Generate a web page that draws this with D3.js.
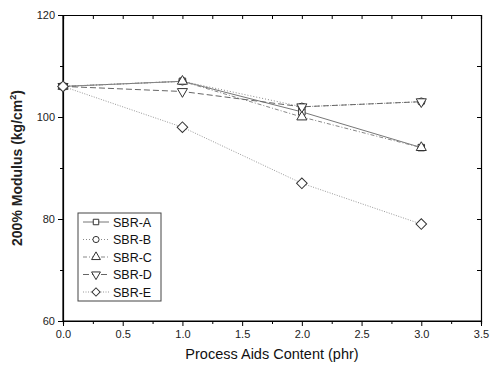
<!DOCTYPE html>
<html lang="en">
<head>
  <meta charset="UTF-8">
  <title>200% Modulus vs Process Aids Content</title>
  <style>
    body { margin: 0; background: #fff; }
    svg { display: block; font-family: "Liberation Sans", Arial, sans-serif; }
    .series path.line { fill: none; stroke-width: 1; }
    .marker { fill: #fff; stroke: #333; stroke-width: 1; }
  </style>
</head>
<body>
  <svg width="490" height="368"></svg>

  <script src="https://d3js.org/d3.v7.min.js"></script>
  <script>
    const xValues = [0, 1, 2, 3];
    const seriesNames = ["SBR-A", "SBR-B", "SBR-C", "SBR-D", "SBR-E"];
    const sbrA = [106, 107, 101, 94];
    const sbrB = [106, 107, 102, 103];
    const sbrC = [106, 107, 100, 94];
    const sbrD = [106, 105, 102, 103];
    const sbrE = [106, 98, 87, 79];
    const xTicks = [0, 0.5, 1, 1.5, 2, 2.5, 3, 3.5];
    const yTicks = [60, 80, 100, 120];

    const series = [sbrA, sbrB, sbrC, sbrD, sbrE];
    // diamond = square turned 45 degrees, like Origin's
    const symbols = [d3.symbolSquare, d3.symbolCircle, d3.symbolTriangle, d3.symbolTriangle, d3.symbolSquare];
    const symSizes = [42, 44, 44, 44, 56];
    const legSizes = [30, 30, 34, 34, 34];
    const rotations = [0, 0, 0, 180, 45];
    const dashes = [null, "1,2", "4,2,1,2", "6,3", "1,1.5"];
    const lineColors = ["#777", "#888", "#888", "#666", "#999"];

    const margin = {top: 15, right: 9, bottom: 47, left: 63};
    const width = 490, height = 368;
    const svg = d3.select("svg");

    const x = d3.scaleLinear().domain([0, 3.5]).range([margin.left, width - margin.right]);
    const y = d3.scaleLinear().domain([60, 120]).range([height - margin.bottom, margin.top]);

    // axes: outward ticks on primary, inward on mirrored ones
    const xAxis = svg.append("g")
      .attr("transform", `translate(0,${y(60)})`)
      .call(d3.axisBottom(x).tickValues(xTicks).tickFormat(d3.format(".1f")).tickSize(5).tickPadding(4));
    svg.append("g")
      .attr("transform", `translate(0,${y(60)})`)
      .call(d3.axisBottom(x).tickValues(d3.range(0.25, 3.5, 0.5)).tickFormat("").tickSize(3));
    const yAxis = svg.append("g")
      .attr("transform", `translate(${x(0)},0)`)
      .call(d3.axisLeft(y).tickValues(yTicks).tickSize(5).tickPadding(3));
    svg.append("g")
      .attr("transform", `translate(${x(0)},0)`)
      .call(d3.axisLeft(y).tickValues([70, 90, 110]).tickFormat("").tickSize(3));
    svg.append("g")
      .attr("transform", `translate(0,${y(120)})`)
      .call(d3.axisBottom(x).tickValues(d3.range(0, 3.51, 0.25)).tickFormat("").tickSize(4));
    svg.append("g")
      .attr("transform", `translate(${x(3.5)},0)`)
      .call(d3.axisLeft(y).tickValues(d3.range(60, 121, 10)).tickFormat("").tickSize(4));

    svg.selectAll(".domain").attr("stroke", "#000").attr("stroke-width", 1.2);
    svg.selectAll(".tick line").attr("stroke", "#000");
    svg.selectAll(".tick text").attr("font-size", 11).attr("fill", "#222")
      .attr("font-family", "Liberation Sans, Arial, sans-serif");
    xAxis.selectAll(".domain").attr("d", `M${x(0)},0H${x(3.5)}`);
    yAxis.selectAll(".domain").attr("d", `M0,${y(60)}V${y(120)}`);

    // series lines and markers
    const line = d3.line().x((d, i) => x(xValues[i])).y(d => y(d));
    series.forEach((vals, k) => {
      const g = svg.append("g").attr("class", "series");
      g.append("path")
        .attr("class", "line")
        .attr("d", line(vals))
        .attr("stroke", lineColors[k])
        .attr("stroke-dasharray", dashes[k]);
      g.selectAll("path.marker")
        .data(vals)
        .join("path")
        .attr("class", "marker")
        .attr("d", d3.symbol().type(symbols[k]).size(symSizes[k]))
        .attr("transform", (d, i) => `translate(${x(xValues[i])},${y(d)}) rotate(${rotations[k]})`);
    });

    // legend
    const legend = svg.append("g").attr("transform", "translate(78,213)");
    legend.append("rect")
      .attr("width", 83).attr("height", 88)
      .attr("fill", "#fff").attr("stroke", "#444").attr("stroke-width", 1);
    seriesNames.forEach((name, k) => {
      const row = legend.append("g").attr("transform", `translate(0,${9 + k * 17.5})`);
      row.append("line")
        .attr("x1", 5).attr("x2", 31)
        .attr("stroke", lineColors[k])
        .attr("stroke-dasharray", dashes[k]);
      row.append("path")
        .attr("class", "marker")
        .attr("d", d3.symbol().type(symbols[k]).size(legSizes[k]))
        .attr("transform", `translate(18,0) rotate(${rotations[k]})`);
      row.append("text")
        .attr("x", 35).attr("y", 4.5)
        .attr("font-size", 12.5)
        .attr("fill", "#111")
        .text(name);
    });

    // axis titles
    svg.append("text")
      .attr("x", x(1.75)).attr("y", 359)
      .attr("text-anchor", "middle")
      .attr("font-size", 14.5)
      .attr("fill", "#111")
      .text("Process Aids Content (phr)");

    const yTitle = svg.append("text")
      .attr("transform", `translate(22,${y(90)}) rotate(-90)`)
      .attr("text-anchor", "middle")
      .attr("font-size", 14)
      .attr("font-weight", "600")
      .attr("fill", "#222");
    yTitle.append("tspan").text("200% Modulus (kg/cm");
    yTitle.append("tspan").attr("font-size", 9).attr("dy", -6).text("2");
    yTitle.append("tspan").attr("dy", 6).text(")");
  </script>
</body>
</html>
